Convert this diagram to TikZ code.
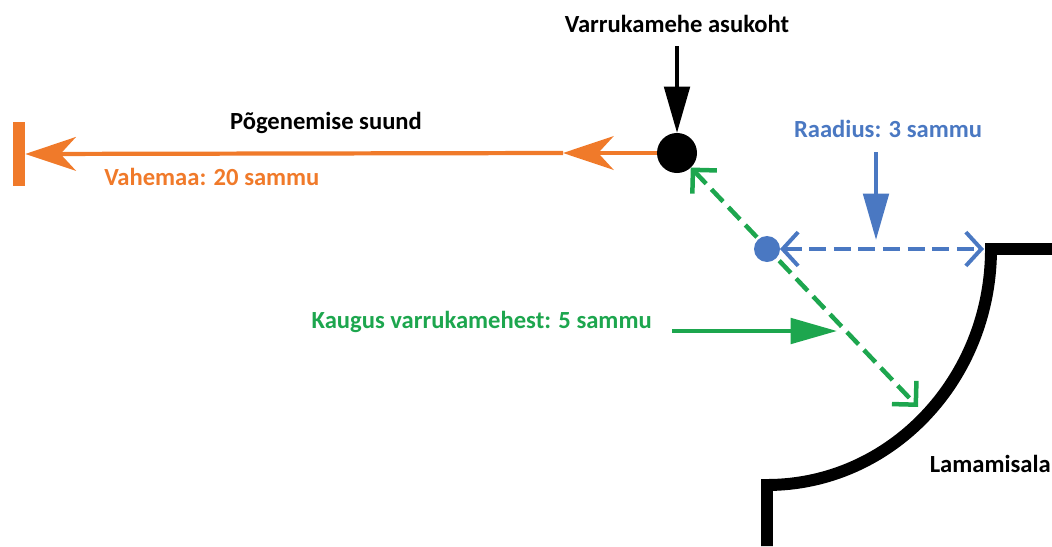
\documentclass[tikz,border=0pt]{standalone}
\usepackage{fontspec}
\setmainfont{Carlito}
\usetikzlibrary{arrows.meta,positioning}
\definecolor{runorange}{HTML}{F07A2A}
\definecolor{radblue}{HTML}{4A78C2}
\definecolor{distgreen}{HTML}{1DA64E}

\begin{document}
\begin{tikzpicture}[x=0.025cm, y=-0.025cm,% one unit = one pixel of the sketch
         > = Straight Barb,
txt/.style = {font=\bfseries\fontsize{17.5}{20}\selectfont, inner sep=0pt},
dot/.style = {circle, fill, inner sep=0pt, outer sep=0pt},
pointer/.style = {line width=3pt, -{Triangle[length=33pt, width=18pt]}},
runline/.style = {runorange, line width=3pt, -{Stealth[length=36pt, width=24pt, inset=11pt]}},
measure/.style args = {#1/#2}{dashed, line width=2.8pt,
                              dash pattern=on 12pt off 5.5pt,
                              {Straight Barb[length=#1, width=#2]}-{Straight Barb[length=#1, width=#2]}}
                    ]
    \useasboundingbox (0,0) rectangle (1052,546);

    % the lying area
    \draw[line width=8.5pt] (1060,249) -- (991,249)
        arc[start angle=0, end angle=90, x radius=224, y radius=236]
        -- (767,546);
    \node[txt, anchor=base east] (area) at (1051,472) {Lamamisala};

    % sleeve man
    \node[dot, minimum size=1cm] (man) at (677,153) {};

    % escape direction
    \node[fill=runorange, minimum width=8.5pt, minimum height=45pt,
          inner sep=0pt] (stop) at (19,154) {};
    \coordinate (mid) at (563,153);
    \draw[runline] (man) -- (mid);
    \draw[runline] (mid) -- (stop.east);
    \node[txt] (dir) at (326,123) {Põgenemise suund};
    \node[txt, runorange, anchor=base west] (gap) at (104,185) {Vahemaa: 20 sammu};

    % position of the sleeve man
    \node[txt] (pos) at (677,24) {Varrukamehe asukoht};
    \coordinate (top) at (677,46);
    \draw[pointer] (top) -- (man);

    % distance from the man
    \coordinate (reach) at (918,407);
    \draw[distgreen, measure=12pt/24pt, line width=3.2pt] (man) -- (reach);
    \node[txt, distgreen, anchor=base east] (dist) at (652,328) {Kaugus varrukamehest: 5 sammu};
    \coordinate (gstart) at (672,331);
    \coordinate (gend) at (837,331);
    \draw[distgreen, pointer] (gstart) -- (gend);

    % radius
    \node[dot, radblue, minimum size=0.65cm] (spot) at (767,249) {};
    \coordinate (edge) at (984,249);
    \draw[radblue, measure=11pt/24pt] (spot) -- (edge);
    \node[txt, radblue] (rad) at (888,129) {Raadius: 3 sammu};
    \coordinate (rtop) at (876,152);
    \coordinate (rtip) at (876,240);
    \draw[radblue, pointer] (rtop) -- (rtip);
\end{tikzpicture}
\end{document}
